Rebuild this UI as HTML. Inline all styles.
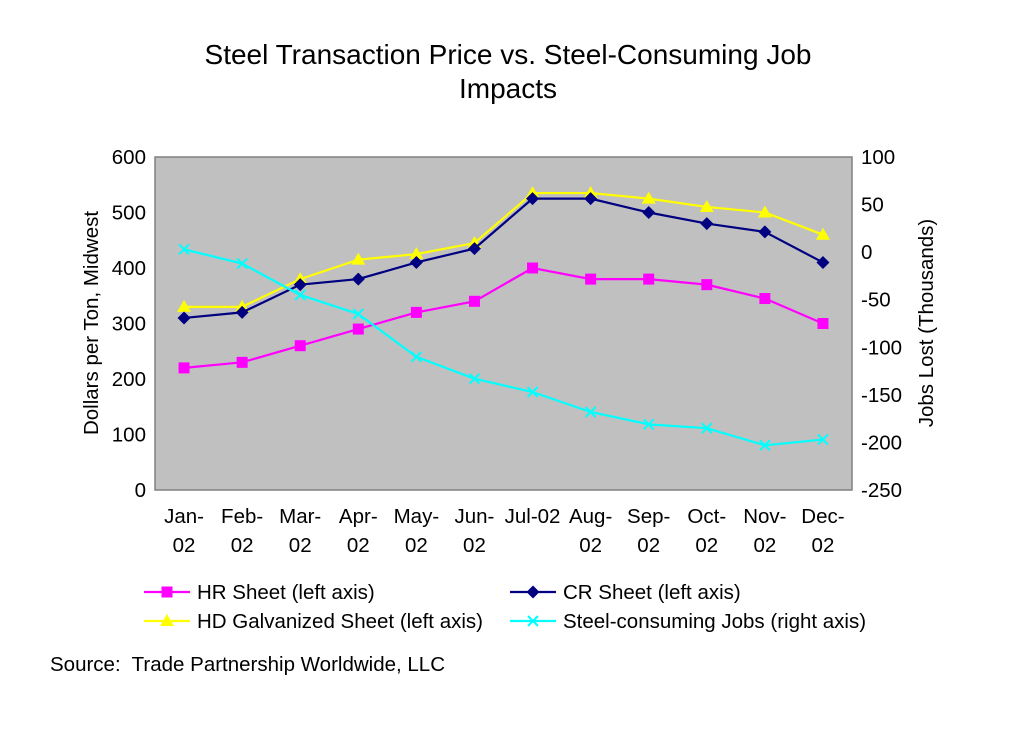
<!DOCTYPE html>
<html><head><meta charset="utf-8"><style>
body{margin:0;background:#fff;font-family:"Liberation Sans",Arial,sans-serif}
svg text{font-family:"Liberation Sans",Arial,sans-serif;fill:#000;white-space:pre}
</style></head><body>
<svg id="c" width="1024" height="746">
<text x="508" y="64" font-size="28" text-anchor="middle">Steel Transaction Price vs. Steel-Consuming Job</text>
<text x="508" y="98" font-size="28" text-anchor="middle">Impacts</text>
<rect x="155" y="157" width="697" height="333" fill="#c0c0c0" stroke="#808080" stroke-width="1.5"/>
<g id="g"></g>
<text transform="translate(98,323) rotate(-90)" font-size="20.5" text-anchor="middle">Dollars per Ton, Midwest</text>
<text transform="translate(933,323) rotate(-90)" font-size="20.5" text-anchor="middle">Jobs Lost (Thousands)</text>
<text x="50" y="671" font-size="20.5" xml:space="preserve">Source:  Trade Partnership Worldwide, LLC</text>
</svg>
<script>
const categories=["Jan-|02","Feb-|02","Mar-|02","Apr-|02","May-|02","Jun-|02","Jul-02","Aug-|02","Sep-|02","Oct-|02","Nov-|02","Dec-|02"];
const hrSheet=[220,230,260,290,320,340,400,380,380,370,345,300];
const crSheet=[310,320,370,380,410,435,525,525,500,480,465,410];
const hdGalv=[330,330,380,415,425,445,535,535,525,510,500,460];
const jobs=[3,-12,-45,-65,-110,-133,-147,-168,-181,-185,-203,-197];
const leftTicks=[0,100,200,300,400,500,600];
const rightTicks=[100,50,0,-50,-100,-150,-200,-250];
const X0=155,W=697,Y0=157,H=333;
const x=i=>X0+W/categories.length*(i+0.5);
const yL=v=>Y0+H-(v/600)*H;
const yR=v=>Y0+(100-v)/350*H;
const NS="http://www.w3.org/2000/svg",g=document.getElementById('g');
function mk(t,a){const e=document.createElementNS(NS,t);for(const k in a)e.setAttribute(k,a[k]);g.appendChild(e);return e;}
leftTicks.forEach(v=>{const t=mk('text',{x:146,y:yL(v)+7,'font-size':20.5,'text-anchor':'end'});t.textContent=v;

});
rightTicks.forEach(v=>{const t=mk('text',{x:861,y:yR(v)+7,'font-size':20.5});t.textContent=v;

});
categories.forEach((c,i)=>{c.split('|').forEach((s,j)=>{const t=mk('text',{x:x(i),y:523+j*29,'font-size':20.5,'text-anchor':'middle'});t.textContent=s;

});});
function marker(type,cx,cy,col){
 if(type==='sq')return mk('rect',{x:cx-5.5,y:cy-5.5,width:11,height:11,fill:col});
 if(type==='dia')return mk('polygon',{points:`${cx},${cy-6.5} ${cx+6.5},${cy} ${cx},${cy+6.5} ${cx-6.5},${cy}`,fill:col});
 if(type==='tri')return mk('polygon',{points:`${cx},${cy-7} ${cx+7},${cy+5} ${cx-7},${cy+5}`,fill:col});
 return mk('path',{d:`M${cx-5},${cy-5}L${cx+5},${cy+5}M${cx-5},${cy+5}L${cx+5},${cy-5}`,stroke:col,'stroke-width':2});
}
function series(data,yf,col,type,name){
 const p=mk('polyline',{points:data.map((v,i)=>x(i)+','+yf(v)).join(' '),fill:'none',stroke:col,'stroke-width':2.2});
 
 
 data.forEach((v,i)=>{const m=marker(type,x(i),yf(v),col);
 
 });
}
series(hrSheet,yL,'#ff00ff','sq','hr-sheet');
series(hdGalv,yL,'#ffff00','tri','hd-galvanized');
series(crSheet,yL,'#000080','dia','cr-sheet');
series(jobs,yR,'#00ffff','x','steel-jobs');
const leg=[[144,592,'#ff00ff','sq','HR Sheet (left axis)'],[510,592,'#000080','dia','CR Sheet (left axis)'],[144,621,'#ffff00','tri','HD Galvanized Sheet (left axis)'],[510,621,'#00ffff','x','Steel-consuming Jobs (right axis)']];
leg.forEach(l=>{const ln=mk('line',{x1:l[0],y1:l[1],x2:l[0]+46,y2:l[1],stroke:l[2],'stroke-width':2.2});


marker(l[3],l[0]+23,l[1],l[2]);
const t=mk('text',{x:l[0]+53,y:l[1]+7,'font-size':20.5});t.textContent=l[4];

});
</script>
</body></html>
